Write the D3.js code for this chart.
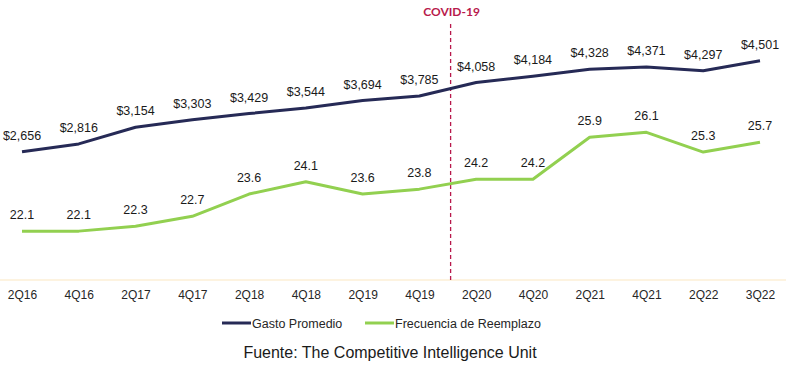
<!DOCTYPE html>
<html>
<head>
<meta charset="utf-8">
<script src="https://cdn.jsdelivr.net/npm/d3@7"></script>
<style>
  body { margin: 0; background: #fff; }
  svg { display: block; font-family: "Liberation Sans", Arial, sans-serif; }
</style>
</head>
<body>
<div id="chart"></div>
<script>
const QUARTERS = ['2Q16', '4Q16', '2Q17', '4Q17', '2Q18', '4Q18', '2Q19', '4Q19', '2Q20', '4Q20', '2Q21', '4Q21', '2Q22', '3Q22'];
const GASTO = [2656, 2816, 3154, 3303, 3429, 3544, 3694, 3785, 4058, 4184, 4328, 4371, 4297, 4501];
const FRECUENCIA = [22.1, 22.1, 22.3, 22.7, 23.6, 24.1, 23.6, 23.8, 24.2, 24.2, 25.9, 26.1, 25.3, 25.7];
const COVID_AT = 7.55; // between 4Q19 and 2Q20

const width = 786, height = 367;
const navy = '#262a56', green = '#92d050', covidRed = '#b8194c';

const svg = d3.select('#chart')
  .append('svg')
  .attr('width', width)
  .attr('height', height);

const x = d3.scalePoint().domain(QUARTERS).range([22, 760]);
const yGasto = d3.scaleLinear().domain([0, 5000]).range([283, 36]);
const yFrec = d3.scaleLinear().domain([20, 30]).range([283, 36]);
const xIdx = d3.scaleLinear().domain([0, QUARTERS.length - 1]).range(x.range());

// baseline axis
const xAxis = d3.axisBottom(x).tickSize(0).tickPadding(10);
const gx = svg.append('g')
  .attr('class', 'x axis')
  .attr('transform', 'translate(0,280)')
  .call(xAxis);
gx.select('.domain').attr('stroke', '#fcefd6').attr('stroke-width', 1.5).attr('d', 'M0,0H786');
gx.selectAll('text').attr('font-size', 12).attr('fill', '#262626')
  .attr('font-family', '"Liberation Sans", Arial, sans-serif');

// covid marker
svg.append('line')
  .attr('x1', xIdx(COVID_AT)).attr('x2', xIdx(COVID_AT))
  .attr('y1', 24).attr('y2', 280)
  .attr('stroke', covidRed)
  .attr('stroke-width', 1.3)
  .attr('stroke-dasharray', '4,3');
svg.append('text')
  .attr('x', xIdx(COVID_AT) + 1)
  .attr('y', 16)
  .attr('text-anchor', 'middle')
  .attr('font-family', 'Lato, sans-serif')
  .attr('font-weight', 'bold')
  .attr('font-size', 12)
  .attr('fill', covidRed)
  .text('COVID-19');

const gastoLine = d3.line()
  .x((d, i) => x(QUARTERS[i]))
  .y(d => yGasto(d));
const frecLine = d3.line()
  .x((d, i) => x(QUARTERS[i]))
  .y(d => yFrec(d));

svg.append('path')
  .datum(GASTO)
  .attr('d', gastoLine)
  .attr('fill', 'none')
  .attr('stroke', navy)
  .attr('stroke-width', 3)
  .attr('stroke-linejoin', 'round');

svg.append('path')
  .datum(FRECUENCIA)
  .attr('d', frecLine)
  .attr('fill', 'none')
  .attr('stroke', green)
  .attr('stroke-width', 3)
  .attr('stroke-linejoin', 'round');

const fmtMoney = d => '$' + d3.format(',')(d);

svg.append('g')
  .selectAll('text')
  .data(GASTO)
  .enter()
  .append('text')
  .attr('x', (d, i) => x(QUARTERS[i]))
  .attr('y', d => yGasto(d) - 12)
  .attr('text-anchor', 'middle')
  .attr('font-size', 12.5)
  .attr('fill', '#1a1a1a')
  .text(fmtMoney);

svg.append('g')
  .selectAll('text')
  .data(FRECUENCIA)
  .enter()
  .append('text')
  .attr('x', (d, i) => x(QUARTERS[i]))
  .attr('y', d => yFrec(d) - 12)
  .attr('text-anchor', 'middle')
  .attr('font-size', 12.5)
  .attr('fill', '#1a1a1a')
  .text(d => d3.format('.1f')(d));

// legend
const legend = [
  { label: 'Gasto Promedio', color: navy, x: 222 },
  { label: 'Frecuencia de Reemplazo', color: green, x: 365 }
];
const lg = svg.append('g').attr('class', 'legend');
legend.forEach(l => {
  lg.append('line')
    .attr('x1', l.x).attr('x2', l.x + 29)
    .attr('y1', 323).attr('y2', 323)
    .attr('stroke', l.color)
    .attr('stroke-width', 3);
  lg.append('text')
    .attr('x', l.x + 30)
    .attr('y', 327.5)
    .attr('font-size', 12.5)
    .attr('fill', '#262626')
    .text(l.label);
});

svg.append('text')
  .attr('x', 390)
  .attr('y', 358)
  .attr('text-anchor', 'middle')
  .attr('font-size', 16)
  .attr('fill', '#1a1a1a')
  .text('Fuente: The Competitive Intelligence Unit');
</script>
</body>
</html>
